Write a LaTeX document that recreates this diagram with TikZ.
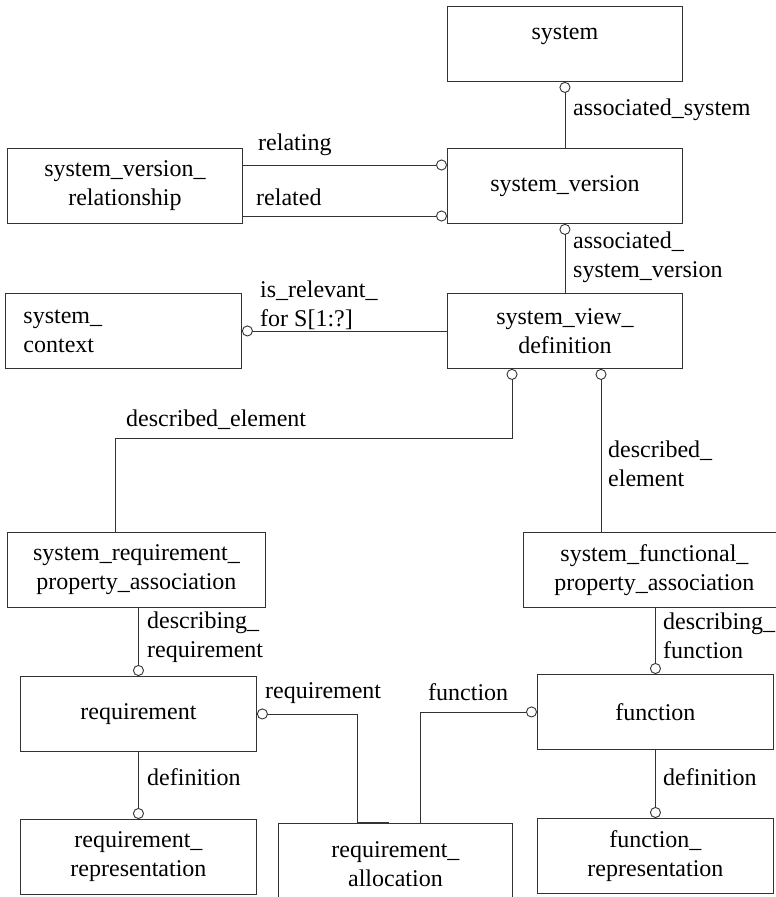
\documentclass[tikz,border=0pt]{standalone}
\usepackage{fontspec}
\setmainfont{Liberation Serif}
\usetikzlibrary{arrows.meta,calc}
\begin{document}
\begin{tikzpicture}[x=1pt,y=-1pt,
  every node/.style={font=\fontsize{24}{29}\selectfont},
  entity/.style={draw=black!80, line width=0.9pt, inner sep=0pt,
    minimum width=#1, minimum height=75pt, anchor=north west, align=center},
  entity/.default=235pt,
  rel/.style={draw=black!80, line width=0.9pt},
  ring/.style={-{Circle[open,length=11pt,width=11pt]}},
  role/.style={inner sep=0pt, anchor=west, align=left},
]
\clip (0,0) rectangle (776,897);

% entities
\node[entity] (sys) at (447,6) {};
\node[anchor=base, inner sep=0pt] (systxt) at ($(sys.north)+(0,33)$) {system};
\node[entity] (sv) at (447,148) {system\_version};
\node[entity] (svr) at (7,148) {system\_version\_\\relationship};
\node[entity, align=left, text width=200pt, inner xsep=18pt] (ctx) at (5,293) {system\_\\context};
\node[entity] (svd) at (447,293) {system\_view\_\\definition};
\node[entity=258pt] (srpa) at (7,532) {system\_requirement\_\\property\_association};
\node[entity=262pt] (sfpa) at (523,532) {system\_functional\_\\property\_association};
\node[entity=236pt] (req) at (20,676) {requirement};
\node[entity=236pt] (fn) at (537,674) {function};
\node[entity=236pt] (rr) at (20,819) {requirement\_\\representation};
\node[entity=234pt, minimum height=82pt] (ra) at (278,823) {requirement\_\\allocation};
\node[entity=236pt] (fr) at (537,818) {function\_\\representation};

% relationships
\draw[rel, ring] (sv.north) -- (sys.south);
\draw[rel, ring] ($(svr.north east)+(0,17)$) -- ($(sv.north west)+(0,17)$);
\draw[rel, ring] ($(svr.north east)+(0,68)$) -- ($(sv.north west)+(0,68)$);
\draw[rel, ring] (svd.north) -- (sv.south);
\draw[rel, ring] (svd.west) -- (ctx.east);
\coordinate (dl) at ($(svd.south west)+(65,0)$);
\coordinate (dr) at ($(svd.south west)+(154,0)$);
\draw[rel, ring] ($(srpa.north west)+(108,0)$) |- ($(dl)+(0,70)$) -- (dl);
\draw[rel, ring] (dr |- sfpa.north) -- (dr);
\draw[rel, ring] (srpa.south -| req.north) -- (req.north);
\draw[rel, ring] (sfpa.south -| fn.north) -- (fn.north);
\draw[rel, ring] (req.south) -- (rr.north);
\draw[rel, ring] (fn.south) -- (fr.north);
\draw[rel, ring] ($(ra.north west)+(79,0)$) |- (req.east);
\draw[rel, ring] ($(ra.north west)+(142,0)$) |- (fn.west);
\draw[rel, line width=1.8pt] ($(ra.north west)+(79,0)$) -- ++(32,0);

% role names
\node[role] (l1) at (573,110) {associated\_system};
\node[role] (l2) at (573,257) {associated\_\\system\_version};
\node[role] (l3) at (258,145) {relating};
\node[role] (l4) at (256,197) {related};
\node[role] (l5) at (260,305) {is\_relevant\_\\for S[1:?]};
\node[role] (l6) at (126,420) {described\_element};
\node[role] (l7) at (608,464) {described\_\\element};
\node[role] (l8) at (147,637) {describing\_\\requirement};
\node[role] (l9) at (663,636) {describing\_\\function};
\node[role] (l10) at (147,777) {definition};
\node[role] (l11) at (663,777) {definition};
\node[role] (l12) at (265,693) {requirement};
\node[role] (l13) at (428,692) {function};
\end{tikzpicture}
\end{document}
